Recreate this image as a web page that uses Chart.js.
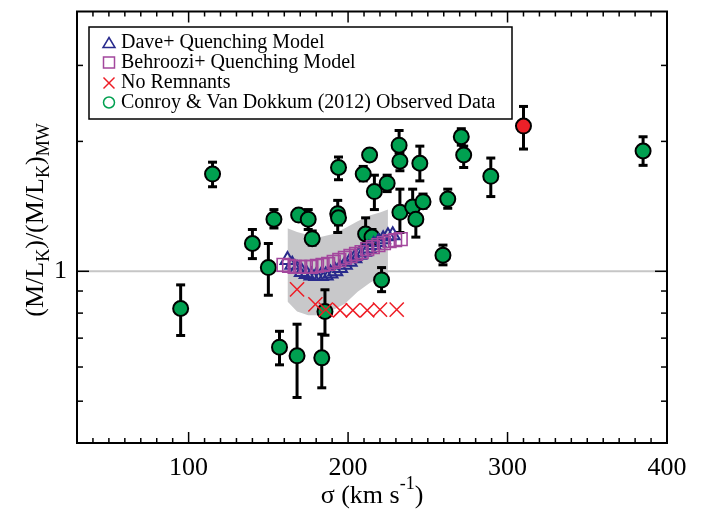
<!DOCTYPE html>
<html>
<head>
<meta charset="utf-8">
<script src="https://cdn.jsdelivr.net/npm/chart.js@4.4.1/dist/chart.umd.min.js"></script>
<style>
  html, body { margin: 0; padding: 0; background: #fff; }
</style>
</head>
<body>
<canvas id="mlChart" width="702" height="512"></canvas>
<script>
// Conroy & Van Dokkum (2012) observed data
const obsSigma = [95, 115, 140, 150, 153.5, 157, 168, 169, 175, 177.5, 183.5, 185.5, 193.5, 194, 194, 209.5, 211, 213.5, 215, 216.5, 221, 224.5, 232, 232.5, 232.5, 240.5, 242.5, 245, 247, 259.5, 262.5, 271, 272.5, 289.5, 385];
const obsML    = [0.82, 1.68, 1.16, 1.02, 1.32, 0.667, 0.637, 1.35, 1.32, 1.19, 0.63, 0.807, 1.36, 1.33, 1.74, 1.68, 1.22, 1.86, 1.20, 1.53, 0.955, 1.60, 1.96, 1.80, 1.37, 1.41, 1.32, 1.78, 1.45, 1.09, 1.47, 2.05, 1.86, 1.66, 1.90];
const obsLo    = [0.71, 1.57, 1.07, 0.88, 1.26, 0.607, 0.51, 1.31, 1.25, 1.15, 0.537, 0.711, 1.23, 1.28, 1.63, 1.62, 1.16, 1.81, 1.15, 1.39, 0.897, 1.53, 1.88, 1.71, 1.23, 1.33, 1.20, 1.62, 1.40, 1.035, 1.40, 1.96, 1.74, 1.49, 1.76];
const obsHi    = [0.93, 1.79, 1.25, 1.16, 1.39, 0.726, 0.754, 1.39, 1.39, 1.24, 0.715, 0.906, 1.46, 1.39, 1.84, 1.75, 1.33, 1.91, 1.25, 1.67, 1.02, 1.67, 2.12, 1.88, 1.55, 1.55, 1.40, 1.95, 1.51, 1.15, 1.55, 2.14, 1.95, 1.83, 2.05];

// highlighted galaxy (red)
const redSigma = [310];
const redML    = [2.17];
const redLo    = [1.92];
const redHi    = [2.41];

// Dave+ quenching model
const daveSigma = [162, 165, 168, 171, 174, 177, 180, 183, 186, 189, 192, 195, 198, 201, 204, 207, 210, 213, 216, 219, 222, 225, 228];
const daveML    = [1.062, 1.036, 1.012, 0.996, 0.985, 0.978, 0.975, 0.975, 0.978, 0.988, 1.000, 1.018, 1.035, 1.052, 1.072, 1.092, 1.110, 1.130, 1.150, 1.169, 1.187, 1.206, 1.212];

// Behroozi+ quenching model
const behSigma = [159.5, 163, 166.5, 170, 173.5, 177, 180.5, 184, 187.5, 191, 194.5, 198, 201.5, 205, 208.5, 212, 215.5, 219, 222.5, 226, 229.5, 233];
const behML    = [1.035, 1.029, 1.024, 1.024, 1.024, 1.024, 1.029, 1.035, 1.040, 1.052, 1.062, 1.074, 1.085, 1.097, 1.108, 1.126, 1.138, 1.150, 1.162, 1.175, 1.181, 1.187];

// No remnants
const noRemSigma = [168, 179.5, 186, 195, 203, 212, 220, 230.5];
const noRemML    = [0.908, 0.838, 0.815, 0.812, 0.812, 0.812, 0.815, 0.815];

// gray scatter band of the models
const bandSigma = [162, 168, 175, 182, 190, 198, 206, 214, 220, 225];
const bandUpper = [1.259, 1.233, 1.213, 1.199, 1.219, 1.259, 1.306, 1.349, 1.369, 1.390];
const bandLower = [0.851, 0.807, 0.791, 0.791, 0.811, 0.841, 0.897, 0.942, 0.966, 0.986];

const xTickLabels = [100, 200, 300, 400];
const yMinorTicks = [0.5, 0.6, 0.7, 0.8, 0.9, 2, 3];
const yMajorTicks = [1];

const legendLabels = [
  'Dave+ Quenching Model',
  'Behroozi+ Quenching Model',
  'No Remnants',
  'Conroy & Van Dokkum (2012) Observed Data'
];

const SERIF = "'Liberation Serif', 'Times New Roman', 'DejaVu Serif', serif";
const GREEN = 'rgb(0,160,80)';
const RED = 'rgb(236,32,40)';
const BLUE = 'rgb(40,42,140)';
const PURPLE = 'rgb(163,71,157)';
const XRED = 'rgb(238,28,37)';

function pts(xs, ys) {
  return xs.map((x, i) => ({ x: x, y: ys[i] }));
}

function seg(ctx, x1, y1, x2, y2) {
  ctx.beginPath();
  ctx.moveTo(x1, y1);
  ctx.lineTo(x2, y2);
  ctx.stroke();
}

const decorPlugin = {
  id: 'decor',
  beforeDatasetsDraw(chart) {
    const { ctx, chartArea: a, scales } = chart;
    const py = scales.y.getPixelForValue(1);
    ctx.save();
    ctx.strokeStyle = '#c6c6c6';
    ctx.lineWidth = 2;
    seg(ctx, a.left, py, a.right, py);
    ctx.restore();
  },
  beforeDatasetDraw(chart, args) {
    const ds = chart.data.datasets[args.index];
    if (!ds.errLo) return;
    const { ctx, scales: { x, y } } = chart;
    ctx.save();
    ctx.strokeStyle = '#000';
    ctx.lineWidth = 3;
    ds.data.forEach((p, i) => {
      const px = x.getPixelForValue(p.x);
      const yl = y.getPixelForValue(ds.errLo[i]);
      const yh = y.getPixelForValue(ds.errHi[i]);
      seg(ctx, px, yl, px, yh);
      seg(ctx, px - 4.5, yl, px + 4.5, yl);
      seg(ctx, px - 4.5, yh, px + 4.5, yh);
    });
    ctx.restore();
  },
  afterDraw(chart) {
    const { ctx, chartArea: a, scales: { x, y } } = chart;
    ctx.save();
    ctx.strokeStyle = '#000';

    // ticks, pointing inward on all four sides
    ctx.lineWidth = 1.5;
    for (let v = 40; v < 400; v += 10) {
      const px = x.getPixelForValue(v);
      const len = xTickLabels.includes(v) ? 11 : 5;
      seg(ctx, px, a.bottom, px, a.bottom - len);
      seg(ctx, px, a.top, px, a.top + len);
    }
    yMinorTicks.forEach(v => {
      const py = y.getPixelForValue(v);
      seg(ctx, a.left, py, a.left + 6, py);
      seg(ctx, a.right, py, a.right - 6, py);
    });
    yMajorTicks.forEach(v => {
      const py = y.getPixelForValue(v);
      seg(ctx, a.left, py, a.left + 12, py);
      seg(ctx, a.right, py, a.right - 12, py);
    });

    // frame
    ctx.lineWidth = 2;
    ctx.strokeRect(a.left, a.top, a.right - a.left, a.bottom - a.top);

    // legend
    const lx = 89, ly = 27, lw = 423, lh = 92;
    ctx.fillStyle = '#fff';
    ctx.fillRect(lx, ly, lw, lh);
    ctx.lineWidth = 1.5;
    ctx.strokeRect(lx, ly, lw, lh);
    const rows = [48, 68, 88, 108];
    ctx.font = '20px ' + SERIF;
    ctx.fillStyle = '#000';
    ctx.textBaseline = 'alphabetic';
    ctx.textAlign = 'left';
    legendLabels.forEach((t, i) => ctx.fillText(t, 121, rows[i]));
    const sx = 109;
    ctx.lineWidth = 1.5;
    // triangle
    ctx.strokeStyle = BLUE;
    ctx.beginPath();
    ctx.moveTo(sx, 37.5); ctx.lineTo(sx + 6, 47.5); ctx.lineTo(sx - 6, 47.5); ctx.closePath();
    ctx.stroke();
    // square
    ctx.strokeStyle = PURPLE;
    ctx.strokeRect(sx - 5.5, 57, 11, 11);
    // cross
    ctx.strokeStyle = XRED;
    seg(ctx, sx - 5.5, 77.5, sx + 5.5, 88.5);
    seg(ctx, sx + 5.5, 77.5, sx - 5.5, 88.5);
    // circle
    ctx.strokeStyle = GREEN;
    ctx.beginPath();
    ctx.arc(sx, 102.5, 5.5, 0, Math.PI * 2);
    ctx.stroke();

    // x axis title: sigma (km s^-1)
    ctx.fillStyle = '#000';
    const big = '26px ' + SERIF, small = '18px ' + SERIF;
    const xParts = [['\u03c3 (km s', big, 0], ['-1', small, -14], [')', big, 0]];
    let tw = 0;
    xParts.forEach(p => { ctx.font = p[1]; tw += ctx.measureText(p[0]).width; });
    let cx = (a.left + a.right) / 2 - tw / 2;
    xParts.forEach(p => {
      ctx.font = p[1];
      ctx.fillText(p[0], cx, 503 + p[2]);
      cx += ctx.measureText(p[0]).width;
    });

    // y axis title: (M/L_K)/(M/L_K)_MW
    const yParts = [['(M/L', big, 0], ['K', small, 6], [')/(M/L', big, 0], ['K', small, 6], [')', big, 0], ['MW', small, 6]];
    tw = 0;
    yParts.forEach(p => { ctx.font = p[1]; tw += ctx.measureText(p[0]).width; });
    ctx.translate(43, 220);
    ctx.rotate(-Math.PI / 2);
    cx = -tw / 2;
    yParts.forEach(p => {
      ctx.font = p[1];
      ctx.fillText(p[0], cx, p[2]);
      cx += ctx.measureText(p[0]).width;
    });
    ctx.restore();
  }
};

const ctx = document.getElementById('mlChart').getContext('2d');

const chart = new Chart(ctx, {
  type: 'scatter',
  data: {
    datasets: [
      {
        label: 'No Remnants',
        data: pts(noRemSigma, noRemML),
        pointStyle: 'crossRot',
        pointRadius: 10,
        borderColor: XRED,
        borderWidth: 1.5,
        order: 1
      },
      {
        label: 'Behroozi+ Quenching Model',
        data: pts(behSigma, behML),
        pointStyle: 'rect',
        pointRadius: 9,
        backgroundColor: 'rgba(0,0,0,0)',
        borderColor: PURPLE,
        borderWidth: 1.6,
        order: 2
      },
      {
        label: 'Dave+ Quenching Model',
        data: pts(daveSigma, daveML),
        pointStyle: 'triangle',
        pointRadius: 8,
        backgroundColor: 'rgba(0,0,0,0)',
        borderColor: BLUE,
        borderWidth: 2,
        order: 3
      },
      {
        label: 'Highlighted',
        data: pts(redSigma, redML),
        errLo: redLo,
        errHi: redHi,
        pointRadius: 7.5,
        backgroundColor: RED,
        borderColor: '#000',
        borderWidth: 2,
        order: 4
      },
      {
        label: 'Conroy & Van Dokkum (2012) Observed Data',
        data: pts(obsSigma, obsML),
        errLo: obsLo,
        errHi: obsHi,
        pointRadius: 7.5,
        backgroundColor: GREEN,
        borderColor: '#000',
        borderWidth: 2,
        order: 5
      },
      {
        label: 'band lower',
        data: pts(bandSigma, bandLower),
        showLine: true,
        pointRadius: 0,
        borderWidth: 0,
        borderColor: 'rgba(0,0,0,0)',
        fill: false,
        order: 9
      },
      {
        label: 'band upper',
        data: pts(bandSigma, bandUpper),
        showLine: true,
        pointRadius: 0,
        borderWidth: 0,
        borderColor: 'rgba(0,0,0,0)',
        backgroundColor: 'rgb(200,200,202)',
        fill: 5,
        order: 10
      }
    ]
  },
  options: {
    responsive: false,
    animation: false,
    events: [],
    layout: { padding: { left: 0, right: 35, top: 7, bottom: 0 } },
    plugins: {
      legend: { display: false },
      tooltip: { enabled: false }
    },
    scales: {
      x: {
        type: 'linear',
        min: 30,
        max: 400,
        afterBuildTicks: s => { s.ticks = xTickLabels.map(v => ({ value: v })); },
        afterFit: s => { s.height = 69; s.paddingLeft = 0; s.paddingRight = 0; },
        grid: { display: false, drawTicks: false },
        border: { display: false },
        ticks: {
          font: { family: SERIF, size: 26 },
          color: '#000',
          padding: 10,
          maxRotation: 0,
          autoSkip: false
        }
      },
      y: {
        type: 'logarithmic',
        min: 0.4,
        max: 4,
        afterBuildTicks: s => { s.ticks = yMajorTicks.map(v => ({ value: v })); },
        afterFit: s => { s.width = 77; s.paddingTop = 0; s.paddingBottom = 0; },
        grid: { display: false, drawTicks: false },
        border: { display: false },
        ticks: {
          font: { family: SERIF, size: 26 },
          color: '#000',
          padding: 10,
          callback: v => String(v)
        }
      }
    }
  },
  plugins: [decorPlugin]
});
</script>
</body>
</html>
